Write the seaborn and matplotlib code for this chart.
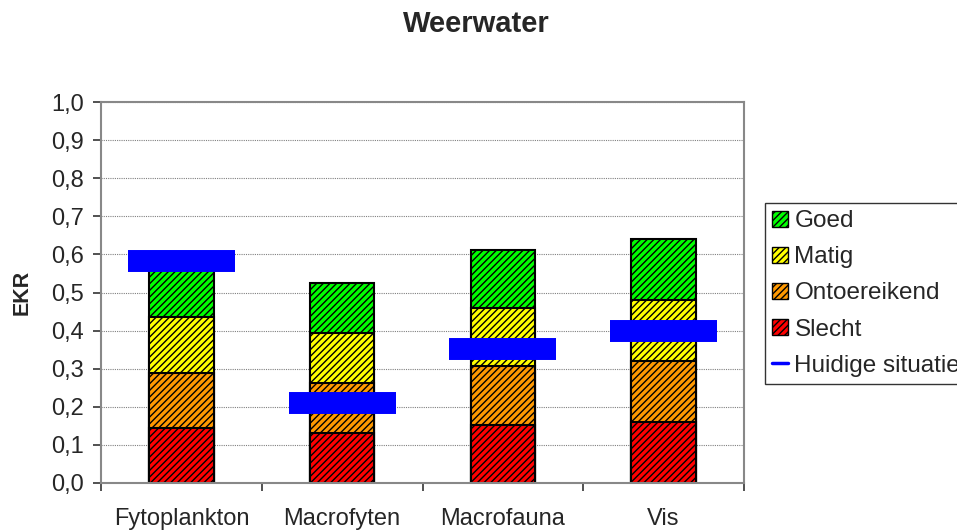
import pandas as pd
import seaborn as sns
import matplotlib.pyplot as plt
from matplotlib.patches import Patch
from matplotlib.lines import Line2D
from matplotlib.ticker import FuncFormatter, MultipleLocator

categories = ["Fytoplankton", "Macrofyten", "Macrofauna", "Vis"]
levels = ["Slecht", "Ontoereikend", "Matig", "Goed"]
slecht = [0.145, 0.131, 0.153, 0.160]
ontoereikend = [0.145, 0.131, 0.153, 0.160]
matig = [0.145, 0.131, 0.153, 0.160]
goed = [0.145, 0.132, 0.153, 0.160]
huidig = [0.583, 0.210, 0.352, 0.400]

level_colors = {"Slecht": "#FF0000", "Ontoereikend": "#FF9900",
                "Matig": "#FFFF00", "Goed": "#00FF00"}

sns.set_style("white")
plt.rcParams["font.family"] = ["Liberation Sans", "DejaVu Sans"]
plt.rcParams["hatch.linewidth"] = 1.0
plt.rcParams["hatch.color"] = "#222222"

df = pd.DataFrame({"cat": categories, "Slecht": slecht,
                   "Ontoereikend": ontoereikend, "Matig": matig, "Goed": goed})
cum = df[levels].cumsum(axis=1)
cum["cat"] = df["cat"]

fig = plt.figure(figsize=(9.57, 5.30), dpi=100)
ax = fig.add_axes([101 / 957, 1 - 483 / 530, 643 / 957, 381 / 530])

# stack: draw cumulative totals from the top level down
for lvl in reversed(levels):
    sns.barplot(data=cum, x="cat", y=lvl, color=level_colors[lvl],
                width=0.40, edgecolor="black", linewidth=1.5,
                saturation=1, ax=ax, zorder=2)

for p in ax.patches:
    p.set_hatch("/////")

ax.hlines(huidig, [i - 0.333 for i in range(4)], [i + 0.333 for i in range(4)],
          colors="#0000FF", linewidth=15.8, zorder=4, capstyle="butt")

ax.set_xlim(-0.5, 3.5)
ax.set_ylim(0, 1.0)
ax.yaxis.set_major_locator(MultipleLocator(0.1))
ax.yaxis.set_major_formatter(FuncFormatter(lambda v, _: f"{v:.1f}".replace(".", ",")))
ax.grid(axis="y", linestyle=(0, (1, 1)), linewidth=0.8, color="#808080", zorder=0)
ax.set_axisbelow(True)

ax.set_xticks([0, 1, 2, 3])
ax.set_xticklabels(categories, fontsize=17)
ax.tick_params(axis="x", length=0, pad=18)
ax.set_xticks([-0.5, 0.5, 1.5, 2.5, 3.5], minor=True)
ax.tick_params(axis="x", which="minor", length=6, width=1.2, color="#333333",
               direction="out", bottom=True)
ax.tick_params(axis="y", labelsize=17, length=6, width=1.2, color="#333333",
               direction="out", left=True, pad=6.5)

for s in ax.spines.values():
    s.set_visible(True)
    s.set_color("#888888")
    s.set_linewidth(1.5)

ax.set_xlabel("")
ax.set_ylabel("EKR", fontsize=15.5, fontweight="bold", labelpad=13)
fig.text(476.5 / 957, 1 - 32 / 530, "Weerwater", ha="center", va="baseline",
         fontsize=21, fontweight="bold")

handles = [Patch(facecolor=level_colors[l], edgecolor="black", hatch="/////", label=l)
           for l in reversed(levels)]
handles.append(Line2D([0], [0], color="#0000FF", lw=2.5, label="Huidige situatie"))
leg = fig.legend(handles=handles, loc="upper left", bbox_to_anchor=(765 / 957, 1 - 203 / 530),
                 fontsize=17.5, frameon=True, fancybox=False, edgecolor="black",
                 handlelength=0.66, handleheight=0.66, handletextpad=0.25,
                 labelspacing=0.58, borderpad=0.3, borderaxespad=0)
leg.get_frame().set_linewidth(1.0)

fig.savefig("out.png", dpi=100)
